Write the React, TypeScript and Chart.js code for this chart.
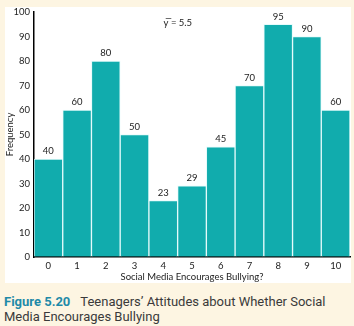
import React, { useEffect, useRef } from "react";
import { Chart, registerables } from "chart.js";

Chart.register(...registerables);

const categories = ["0", "1", "2", "3", "4", "5", "6", "7", "8", "9", "10"];
const frequencies = [40, 60, 80, 50, 23, 29, 45, 70, 95, 90, 60];
const yTicks = [0, 10, 20, 30, 40, 50, 60, 70, 80, 90, 100];
const meanLabel = "y\u0305 = 5.5";
const xTitle = "Social Media Encourages Bullying?";
const yTitle = "Frequency";
const captionNumber = "Figure 5.20";
const captionLine1 = "Teenagers\u2019 Attitudes about Whether Social";
const captionLine2 = "Media Encourages Bullying";

const FONT = "Lato, 'Open Sans', sans-serif";

export default function App() {
  const ref = useRef<HTMLCanvasElement | null>(null);

  useEffect(() => {
    if (!ref.current) return;
    const valueLabels = {
      id: "valueLabels",
      afterDatasetsDraw(chart: any) {
        const ctx = chart.ctx;
        const meta = chart.getDatasetMeta(0);
        ctx.save();
        ctx.font = `9.5px ${FONT}`;
        ctx.fillStyle = "#222";
        ctx.textAlign = "center";
        ctx.textBaseline = "bottom";
        meta.data.forEach((el: any, i: number) => {
          ctx.fillText(String(frequencies[i]), el.x, el.y - 3);
        });
        const ca = chart.chartArea;
        ctx.textAlign = "left";
        ctx.textBaseline = "middle";
        ctx.fillText(meanLabel, ca.left + (ca.right - ca.left) * 0.41, ca.top + 11);
        ctx.restore();
      },
    };
    const chart = new Chart(ref.current, {
      type: "bar",
      data: {
        labels: categories,
        datasets: [
          {
            data: frequencies,
            backgroundColor: "#11acad",
            borderColor: "rgba(225,250,250,0.85)",
            borderWidth: 1,
            barPercentage: 1,
            categoryPercentage: 1,
          },
        ],
      },
      options: {
        animation: false,
        responsive: false,
        maintainAspectRatio: false,
        layout: { padding: { left: 0, right: 4, top: 12, bottom: 0 } },
        plugins: {
          legend: { display: false },
          tooltip: { enabled: false },
        },
        scales: {
          x: {
            offset: true,
            grid: { display: false, drawOnChartArea: false, drawTicks: false },
            border: { color: "#000", width: 1.5 },
            ticks: { color: "#222", font: { size: 9.5, family: FONT }, padding: 3 },
            title: {
              display: true,
              text: xTitle,
              color: "#222",
              font: { size: 9.5, family: FONT },
              padding: { top: 0, bottom: 0 },
            },
            afterFit(scale: any) {
              scale.height = 26;
            },
          },
          y: {
            min: 0,
            max: 100,
            afterBuildTicks(scale: any) {
              scale.ticks = yTicks.map((v) => ({ value: v }));
            },
            grid: { drawOnChartArea: false, drawTicks: false },
            border: { color: "#000", width: 1.5 },
            ticks: { color: "#222", font: { size: 9.5, family: FONT }, padding: 4 },
            title: {
              display: true,
              text: yTitle,
              color: "#222",
              font: { size: 9.5, family: FONT },
              padding: { top: 4, bottom: 0 },
            },
            afterFit(scale: any) {
              scale.width = 34;
            },
          },
        },
      },
      plugins: [valueLabels],
    });
    return () => chart.destroy();
  }, []);

  return (
    <div
      style={{
        position: "fixed",
        left: 0,
        top: 0,
        width: 354,
        height: 326,
        background: "#fdf5e2",
        overflow: "hidden",
      }}
    >
      <div
        style={{
          position: "absolute",
          left: 5,
          top: 7,
          width: 346,
          height: 276,
          background: "#ffffff",
        }}
      />
      <canvas
        ref={ref}
        width={354}
        height={283}
        style={{ position: "absolute", left: 0, top: 0, width: 354, height: 283 }}
      />
      <div
        style={{
          position: "absolute",
          left: 4,
          top: 294,
          fontFamily: "Roboto, 'Open Sans', sans-serif",
          fontSize: 13,
          lineHeight: "15px",
          color: "#3a3a3a",
          whiteSpace: "nowrap",
        }}
      >
        <span style={{ color: "#1f8aa8", fontWeight: 700 }}>{captionNumber}</span>
        <span style={{ display: "inline-block", width: 10 }} />
        <span>{captionLine1}</span>
        <br />
        <span>{captionLine2}</span>
      </div>
    </div>
  );
}
